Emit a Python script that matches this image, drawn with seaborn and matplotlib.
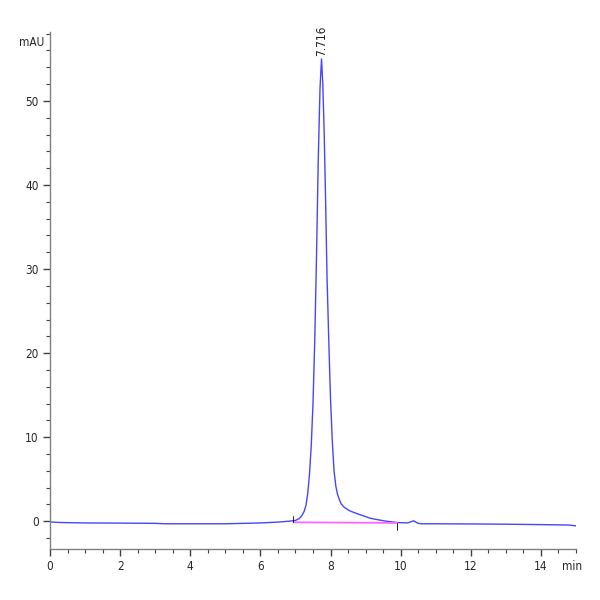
import numpy as np
import pandas as pd
import matplotlib
matplotlib.use("Agg")
import matplotlib.pyplot as plt
import seaborn as sns
from matplotlib.ticker import MultipleLocator

# ---- data ----
time_min = [0.0, 0.3, 1.0, 2.0, 3.0, 3.3, 4.0, 5.0, 6.0, 6.5, 6.8, 7.0, 7.1, 7.15,
            7.2, 7.25, 7.3, 7.35, 7.4, 7.45, 7.5, 7.55, 7.6, 7.65, 7.7, 7.743,
            7.78, 7.82, 7.86, 7.9, 7.95, 8.0, 8.05, 8.1, 8.15, 8.2, 8.25, 8.3,
            8.38, 8.5, 8.6, 8.76, 9.0, 9.14, 9.3, 9.6, 9.9, 10.2, 10.37, 10.5,
            10.6, 11.0, 12.0, 13.0, 14.0, 14.8, 15.0]
signal_mau = [-0.08, -0.15, -0.2, -0.22, -0.25, -0.3, -0.3, -0.3, -0.2, -0.1, 0.0,
              0.1, 0.3, 0.5, 0.8, 1.2, 1.9, 3.3, 5.6, 9.0, 14.0, 21.5, 31.5,
              43.0, 51.5, 55.0, 52.0, 46.0, 38.0, 29.0, 21.5, 14.5, 9.6, 6.0,
              4.2, 3.2, 2.6, 2.1, 1.7, 1.35, 1.15, 0.9, 0.55, 0.35, 0.22, 0.0,
              -0.15, -0.2, 0.05, -0.25, -0.3, -0.3, -0.32, -0.35, -0.4, -0.45,
              -0.55]
peak_rt = 7.743
peak_height = 55.0
peak_label = "7.716"
baseline_t = [6.94, 9.9]
baseline_y = [-0.12, -0.2]
x_ticks = [0, 2, 4, 6, 8, 10, 12, 14]
y_ticks = [0, 10, 20, 30, 40, 50]

df = pd.DataFrame({"time": time_min, "mAU": signal_mau})

sns.set_style("white")
plt.rcParams["font.family"] = ["DejaVu Sans"]
plt.rcParams["font.stretch"] = "condensed"

fig = plt.figure(figsize=(6, 6), dpi=100)
ax = fig.add_axes([50 / 600, 51 / 600, 526 / 600, 517 / 600])

sns.lineplot(data=df, x="time", y="mAU", ax=ax, color="#4646ff",
             linewidth=1.0, estimator=None, sort=False)
ax.plot(baseline_t, baseline_y, color="#ff66ff", linewidth=1.3)
# baseline start/end markers
ax.plot([baseline_t[0]] * 2, [baseline_y[0], baseline_y[0] + 0.8], color="black", lw=0.6)
ax.plot([baseline_t[1]] * 2, [baseline_y[1], baseline_y[1] - 0.8], color="black", lw=0.6)

ax.text(peak_rt, peak_height + 0.4, peak_label, rotation=90, ha="center",
        va="bottom", fontsize=8.5, color="#222222", fontstretch="condensed")

ax.set_xlim(0, 15)
ax.set_ylim(-3.3, 58.2)
ax.set_xticks(x_ticks)
ax.set_yticks(y_ticks)
ax.xaxis.set_minor_locator(MultipleLocator(0.5))
ax.yaxis.set_minor_locator(MultipleLocator(2))
ax.set_xlabel("")
ax.set_ylabel("")

for s in ["top", "right"]:
    ax.spines[s].set_visible(False)
for s in ["left", "bottom"]:
    ax.spines[s].set_color("#808080")
    ax.spines[s].set_linewidth(1.0)

ax.tick_params(which="major", direction="out", length=5, width=1.0,
               color="#404040", labelsize=8.5, pad=3, left=True, bottom=True)
ax.tick_params(which="minor", direction="out", length=3, width=0.8,
               color="#404040", left=True, bottom=True)
for lab in ax.get_xticklabels() + ax.get_yticklabels():
    lab.set_fontstretch("condensed")

fig.text(44 / 600, 1 - 42 / 600, "mAU", ha="right", va="center", fontsize=8.5,
         fontstretch="condensed")
fig.text(562 / 600, 1 - 567 / 600, "min", ha="left", va="center", fontsize=8.5,
         fontstretch="condensed")

fig.savefig("out.png", dpi=100)
